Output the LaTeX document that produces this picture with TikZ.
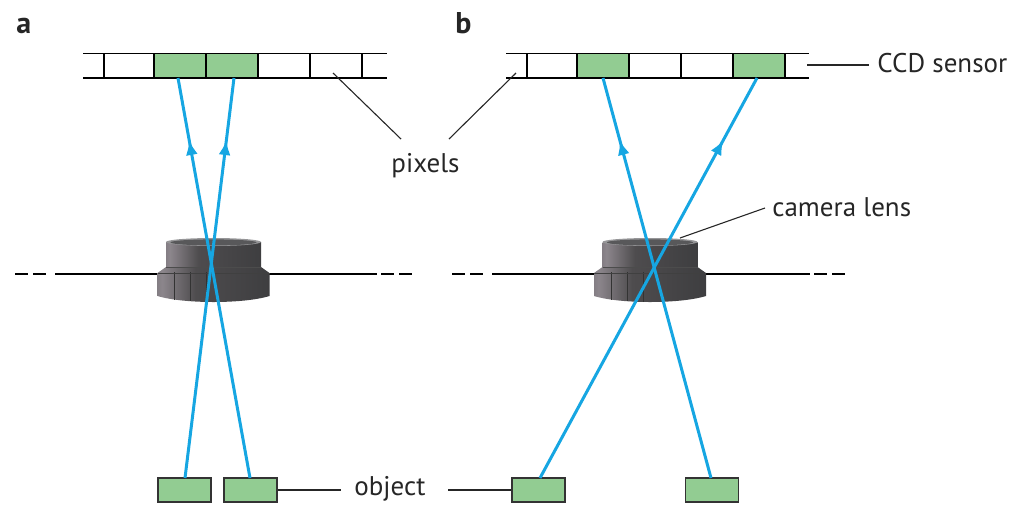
\documentclass[tikz,border=0pt]{standalone}
\usepackage{fontspec}
\setmainfont{PT Sans}
\usetikzlibrary{arrows.meta,decorations.markings}

\definecolor{pixgreen}{RGB}{146,204,146}
\definecolor{raycol}{RGB}{22,166,226}
\definecolor{lensA}{RGB}{38,38,40}
\definecolor{lensB}{RGB}{62,62,64}
\definecolor{lensC}{RGB}{140,134,140}
\definecolor{lensD}{RGB}{78,76,78}
\definecolor{lensE}{RGB}{62,62,64}
\definecolor{lensF}{RGB}{34,34,36}
\definecolor{rimlight}{RGB}{150,150,152}
\definecolor{rimdark}{RGB}{88,88,90}

\pgfdeclarehorizontalshading{lensbody}{100bp}{color(0bp)=(lensA); color(8bp)=(lensB); color(27bp)=(lensC); color(42bp)=(lensD); color(75bp)=(lensE); color(100bp)=(lensF)}

\tikzset{
  thinline/.style={line width=0.55pt, black},
  axisdash/.style={line width=0.55pt, black, dash pattern=on 6.5pt off 2.5pt},
  leader/.style={line width=0.55pt, black!85},
  objbox/.style={draw=black!80, line width=0.6pt, fill=pixgreen, minimum width=26.5pt, minimum height=12pt, inner sep=0pt},
  lbl/.style={font=\fontsize{13.5}{16}\selectfont, text=black!85, inner sep=0pt},
  panel/.style={font=\fontsize{15}{17}\selectfont\bfseries, text=black!85, inner sep=0pt},
  ray/.style={raycol, line width=1.5pt,
    postaction={decorate, decoration={markings,
      mark=at position 0.845 with {\arrow{Latex[length=7.5pt,width=6pt]}}}}},
  camlens/.pic={
    % flange with chamfer
    \path[shading=lensbody] (-47.5,-6) -- (-56,0) -- (-56,23)
      .. controls (-30,31) and (30,31) .. (56,23) -- (56,0) -- (47.5,-6) -- cycle;
    \foreach \fx/\fy in {-39/26.5,-23/28,-7/28.8}
      \draw[black!80, line width=0.45pt] (\fx,-1) -- (\fx,\fy);
    \draw[black!75, line width=0.45pt] (-56,0) -- (56,0);
    % barrel
    \path[shading=lensbody] (-47.5,-31) -- (-47.5,-6) -- (47.5,-6) -- (47.5,-31) -- cycle;
    \draw[black!70, line width=0.4pt] (-47.5,-6) -- (47.5,-6);
    % front rim
    \fill[rimlight] (0,-31) ellipse [x radius=47.5, y radius=4];
    \fill[rimdark] (0,-30.6) ellipse [x radius=43, y radius=3];
  }
}

\begin{document}
\begin{tikzpicture}[x=0.5pt, y=-0.5pt]
\useasboundingbox (0,0) rectangle (1023,505);

% panel letters
\node[panel, anchor=base west] (pa) at (16,33) {a};
\node[panel, anchor=base west] (pb) at (455,33) {b};

% ---------- CCD sensors ----------
% panel a
\fill[pixgreen] (154,53.5) rectangle (206,78);
\fill[pixgreen] (206,53.5) rectangle (258,78);
\draw[thinline] (83,53.5) -- (387,53.5);
\draw[thinline] (83,78) -- (387,78);
\foreach \cx in {104,154,206,258,310,362}
  \draw[thinline] (\cx,53.5) -- (\cx,78);
% panel b
\fill[pixgreen] (577,53.5) rectangle (629,78);
\fill[pixgreen] (733,53.5) rectangle (785,78);
\draw[thinline] (506,53.5) -- (809,53.5);
\draw[thinline] (506,78) -- (809,78);
\foreach \cx in {527,577,629,681,733,785}
  \draw[thinline] (\cx,53.5) -- (\cx,78);

% ---------- optical axes ----------
\draw[axisdash] (15,274) -- (51,274);
\draw[thinline] (55,274) -- (160,274);
\draw[thinline] (268,274) -- (377,274);
\draw[axisdash] (381,274) -- (417,274);

\draw[axisdash] (452,274) -- (488,274);
\draw[thinline] (492,274) -- (596,274);
\draw[thinline] (704,274) -- (810,274);
\draw[axisdash] (814,274) -- (849,274);

% ---------- lenses ----------
\pic at (213.5,273) {camlens};
\pic at (650,273) {camlens};

% ---------- objects ----------
\node[objbox] (oa1) at (184.5,490) {};
\node[objbox] (oa2) at (250.5,490) {};
\node[objbox] (ob1) at (538.5,490) {};
\node[objbox] (ob2) at (712,490) {};

% ---------- rays ----------
\coordinate (ra1) at (185,478);  \coordinate (ia1) at (234,78);
\coordinate (ra2) at (250,478);  \coordinate (ia2) at (178,78);
\coordinate (rb1) at (540,478);  \coordinate (ib1) at (757,78);
\coordinate (rb2) at (711,478);  \coordinate (ib2) at (603,78);
\draw[ray] (ra1) -- (ia1);
\draw[ray] (ra2) -- (ia2);
\draw[ray] (rb1) -- (ib1);
\draw[ray] (rb2) -- (ib2);

% ---------- labels ----------
\node[lbl, anchor=base] (pix) at (425.5,172) {pixels};
\coordinate (pixA) at (333,73);
\coordinate (pixB) at (516,73);
\draw[leader] (pixA) -- (401,139);
\draw[leader] (pixB) -- (449,139);

\node[lbl, anchor=base west] (ccd) at (877,72) {CCD sensor};
\coordinate (ccdA) at (807,65);
\draw[leader] (ccdA) -- (869,65);

\node[lbl, anchor=base west] (cam) at (772,216) {camera lens};
\coordinate (camA) at (680,238);
\draw[leader] (camA) -- (765,208);

\node[lbl, anchor=base west] (obj) at (354,495) {object};
\draw[leader] (oa2.east) -- (341,490);
\draw[leader] (448,490) -- (ob1.west);
\end{tikzpicture}
\end{document}
